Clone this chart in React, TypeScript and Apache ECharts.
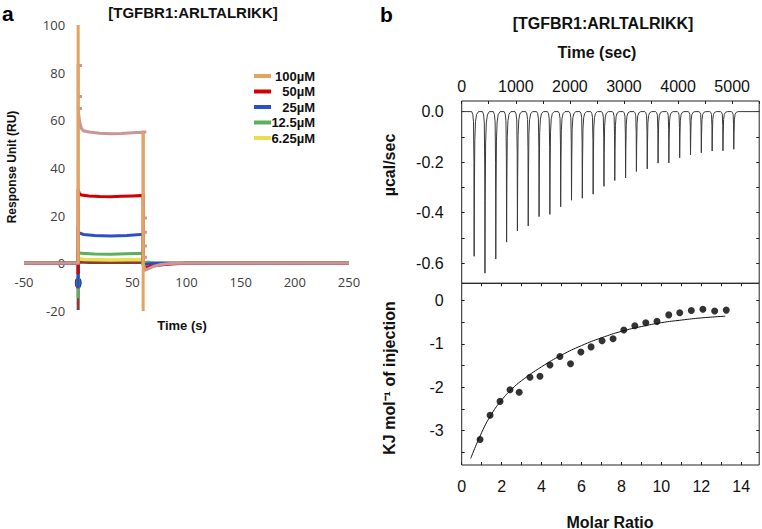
import React, { useEffect, useRef } from "react";
import * as echarts from "echarts";

// ---------- Panel a : SPR sensorgram  [time (s), response (RU)] ----------
const conc100Assoc: [number, number][] = [[0, 100], [0, 0]];
const conc100Dissoc: [number, number][] = [[60, 55.2], [60, -20]];
const conc100Trace: [number, number][] = [
  [-50, 0], [0, 0], [0, 83], [3.5, 83], [0, 83], [0, 70], [3.5, 70], [0, 70], [0, 65], [3.5, 65], [0, 65],
  [0.6, 62], [1.5, 59], [3, 56.6], [5, 55.6], [10, 55.1], [20, 54.6], [30, 54.4], [40, 54.5], [50, 54.8],
  [63, 55.1], [60, 55.1], [60, 19], [63.5, 19], [60, 19], [60, 13], [63.5, 13], [60, 13], [60, 7.3],
  [63.5, 7.3], [60, 7.3], [60, 2.6], [63.5, 2.6], [60, 2.6], [60, 0], [62, -2.8], [65, -2.2], [70, -1.2],
  [76, -0.5], [85, -0.1], [95, 0], [250, 0],
];
const conc50: [number, number][] = [
  [-50, 0], [0, 0], [0, -4.5], [0, 31], [1, 29.3], [3, 28.7], [10, 28.3], [20, 28], [30, 27.9], [40, 28.1],
  [50, 28.3], [60, 28.5], [60, 0], [61, -1.6], [65, -1.4], [70, -1], [80, -0.5], [90, -0.2], [100, 0], [250, 0],
];
const conc25: [number, number][] = [
  [-50, 0], [0, 0], [0, -10.5], [0, 13.5], [1.5, 12.6], [5, 12.1], [15, 11.7], [30, 11.5], [45, 11.7],
  [60, 12.2], [60, 0], [62, -0.4], [70, 0], [250, 0],
];
const conc25Dot: [number, number][] = [[0, -8.3]];
const conc12_5: [number, number][] = [
  [-50, 0], [0, 0], [0, -14.6], [0, 4.6], [3, 4.2], [15, 3.9], [30, 3.8], [45, 4], [60, 4.2], [60, 0],
  [64, 0.5], [70, 0], [250, 0],
];
const conc6_25: [number, number][] = [
  [-50, 0], [0, 0], [0, 2], [5, 1.6], [30, 1.4], [60, 1.6], [60, 0], [250, 0],
];
const conc3_125: [number, number][] = [
  [-50, 0], [0, 0], [0, -19.6], [0, 0.6], [10, 0.4], [40, 0.4], [60, 0.5], [60, 0], [250, 0],
];
const legendNames = ["100µM", "50µM", "25µM", "12.5µM", "6.25µM"];
const sprTimeRange = [-50, 250];
const sprResponseRange = [-20, 100];

// ---------- Panel b (top): raw ITC thermogram ----------
const injectionTimes = [
  230, 430, 630, 830, 1030, 1230, 1430, 1630, 1830, 2030, 2230, 2430, 2630,
  2830, 3030, 3230, 3430, 3630, 3830, 4030, 4230, 4430, 4630, 4830, 5030,
];
const peakDepths = [
  -0.573, -0.64, -0.584, -0.517, -0.473, -0.453, -0.416, -0.407, -0.377, -0.351, -0.343, -0.327, -0.296,
  -0.273, -0.263, -0.237, -0.227, -0.204, -0.203, -0.183, -0.171, -0.163, -0.156, -0.155, -0.149,
];
// shape of one injection peak: [seconds from injection, fraction of peak depth]
const peakProfile: [number, number][] = [
  [-45, 0], [-25, 0.02], [-12, 0.07], [-4, 0.35], [0, 1], [5, 0.55], [12, 0.2], [25, 0.07], [45, 0.02], [80, 0],
];
const timeLabels = [0, 1000, 2000, 3000, 4000, 5000];
const timeTicks = [0, 500, 1000, 1500, 2000, 2500, 3000, 3500, 4000, 4500, 5000, 5500];
const powerLabels = [0, -0.2, -0.4, -0.6];
const powerTicks = [0, -0.1, -0.2, -0.3, -0.4, -0.5, -0.6];

// ---------- Panel b (bottom): integrated heats ----------
const molarRatio = [
  0.92, 1.42, 1.92, 2.42, 2.88, 3.42, 3.92, 4.42, 4.92, 5.45, 5.97, 6.48, 7.03, 7.58, 8.12, 8.67,
  9.22, 9.78, 10.37, 10.92, 11.5, 12.08, 12.67, 13.25,
];
const heatPerInjection = [
  -3.21, -2.65, -2.33, -2.06, -2.12, -1.77, -1.75, -1.49, -1.29, -1.46, -1.19, -1.07, -0.93, -0.88,
  -0.68, -0.58, -0.51, -0.48, -0.33, -0.28, -0.23, -0.2, -0.24, -0.22,
];
const fitMolarRatio = [0.45, 1, 1.5, 2, 2.5, 3, 4, 5, 6, 7, 8, 9, 10, 11, 12, 13.2];
const fitHeat = [-3.65, -3.05, -2.62, -2.3, -2.05, -1.85, -1.53, -1.26, -1.04, -0.86, -0.71, -0.6, -0.51, -0.45, -0.4, -0.36];
const ratioLabels = [0, 2, 4, 6, 8, 10, 12, 14];
const ratioTicks = [0, 1, 2, 3, 4, 5, 6, 7, 8, 9, 10, 11, 12, 13, 14];
const heatLabels = [0, -1, -2, -3];
const heatTicks = [0, -0.5, -1, -1.5, -2, -2.5, -3, -3.5];

const COLORS = {
  c100: "#E3A55E",
  trace: "#C8969A",
  c50: "#D40000",
  c25: "#2A50C8",
  c12: "#5DAE5D",
  c6: "#E6E04A",
  c3: "#8B3A3A",
};
const legendColors = [COLORS.c100, COLORS.c50, COLORS.c25, COLORS.c12, COLORS.c6];

export default function App() {
  const ref = useRef<HTMLDivElement>(null);

  useEffect(() => {
    if (!ref.current) return;
    const chart = echarts.init(ref.current, undefined, { renderer: "svg" });

    const itcRaw: [number, number][] = [[0, 0]];
    injectionTimes.forEach((t, i) => {
      peakProfile.forEach(([dt, f]) => itcRaw.push([t + dt, peakDepths[i] * f]));
    });
    itcRaw.push([5500, 0]);

    // panel a grid geometry; axes cross at (0, 0) like the original
    const gA = { left: 24, top: 25, width: 325, height: 286 };
    const yAxisShift =
      (gA.width * (0 - sprTimeRange[0])) / (sprTimeRange[1] - sprTimeRange[0]);
    const xAxisShift =
      (gA.height * (0 - sprResponseRange[0])) / (sprResponseRange[1] - sprResponseRange[0]);

    const aFont = "'Open Sans', 'Noto Sans', sans-serif";
    const bFont = "'Liberation Sans', Arial, sans-serif";
    const lineA = (name: string, data: [number, number][], color: string, width = 3) => ({
      type: "line",
      name,
      xAxisIndex: 0,
      yAxisIndex: 0,
      data,
      symbol: "none",
      lineStyle: { color, width, cap: "butt", join: "miter" },
      itemStyle: { color },
    });

    const bAxisTick = (vals: number[]) => ({
      show: true,
      inside: true,
      length: 3,
      customValues: vals,
      lineStyle: { color: "#222", width: 1 },
    });
    const bLabel = (vals: number[], margin: number, fmt?: (v: number) => string) => ({
      show: true,
      customValues: vals,
      margin,
      fontSize: 16,
      color: "#111",
      fontFamily: bFont,
      formatter: fmt || ((v: number) => String(v)),
    });

    const legendGraphics: any[] = [];
    legendNames.forEach((n, i) => {
      const y = 76 + i * 15.5;
      legendGraphics.push({
        type: "line",
        shape: { x1: 254, y1: y, x2: 271, y2: y },
        style: { stroke: legendColors[i], lineWidth: 4 },
      });
      legendGraphics.push({
        type: "text",
        x: 315,
        y,
        style: {
          text: n,
          textAlign: "right",
          textVerticalAlign: "middle",
          font: `bold 13px ${bFont}`,
          fill: "#111",
        },
      });
    });

    const option: any = {
      animation: false,
      backgroundColor: "#ffffff",
      grid: [
        { ...gA, outerBoundsMode: "none" },
        {
          left: 461.7, top: 101, width: 297.5, height: 182.3, show: true,
          borderColor: "#222", borderWidth: 1, backgroundColor: "transparent", outerBoundsMode: "none",
        },
        {
          left: 461.7, top: 283.3, width: 297.5, height: 181.7, show: true,
          borderColor: "#222", borderWidth: 1, backgroundColor: "transparent", outerBoundsMode: "none",
        },
      ],
      xAxis: [
        {
          gridIndex: 0, type: "value", min: sprTimeRange[0], max: sprTimeRange[1], interval: 50,
          offset: -xAxisShift,
          axisLine: { show: false, onZero: false }, axisTick: { show: false }, splitLine: { show: false },
          axisLabel: { margin: 12, fontSize: 13, color: "#404040", fontFamily: aFont },
        },
        {
          gridIndex: 1, type: "value", position: "top", min: 0, max: 5500,
          axisLine: { show: false, onZero: false }, splitLine: { show: false },
          axisTick: bAxisTick(timeTicks), axisLabel: bLabel(timeLabels, 7),
        },
        {
          gridIndex: 2, type: "value", position: "bottom", min: 0, max: 14.9,
          axisLine: { show: false, onZero: false }, splitLine: { show: false },
          axisTick: bAxisTick(ratioTicks), axisLabel: bLabel(ratioLabels, 13),
        },
        {
          gridIndex: 2, type: "value", position: "top", min: 0, max: 14.9,
          axisLine: { show: false, onZero: false }, splitLine: { show: false },
          axisTick: bAxisTick(ratioTicks.slice(1)), axisLabel: { show: false },
        },
      ],
      yAxis: [
        {
          gridIndex: 0, type: "value", min: sprResponseRange[0], max: sprResponseRange[1], interval: 20,
          offset: -yAxisShift,
          axisLine: { show: false, onZero: false }, axisTick: { show: false }, splitLine: { show: false },
          axisLabel: { margin: 13, fontSize: 13, color: "#404040", fontFamily: aFont },
        },
        {
          gridIndex: 1, type: "value", position: "left", min: -0.68, max: 0.042,
          axisLine: { show: false, onZero: false }, splitLine: { show: false },
          axisTick: bAxisTick(powerTicks), axisLabel: bLabel(powerLabels, 18, (v: number) => v.toFixed(1)),
        },
        {
          gridIndex: 1, type: "value", position: "right", min: -0.68, max: 0.042,
          axisLine: { show: false, onZero: false }, splitLine: { show: false },
          axisTick: bAxisTick(powerTicks), axisLabel: { show: false },
        },
        {
          gridIndex: 2, type: "value", position: "left", min: -3.8, max: 0.4,
          axisLine: { show: false, onZero: false }, splitLine: { show: false },
          axisTick: bAxisTick(heatTicks), axisLabel: bLabel(heatLabels, 18),
        },
        {
          gridIndex: 2, type: "value", position: "right", min: -3.8, max: 0.4,
          axisLine: { show: false, onZero: false }, splitLine: { show: false },
          axisTick: bAxisTick(heatTicks), axisLabel: { show: false },
        },
      ],
      series: [
        lineA("3.125µM", conc3_125, COLORS.c3),
        lineA("6.25µM", conc6_25, COLORS.c6, 3.5),
        lineA("12.5µM", conc12_5, COLORS.c12),
        lineA("25µM", conc25, COLORS.c25),
        {
          type: "scatter", name: "25µM", xAxisIndex: 0, yAxisIndex: 0, data: conc25Dot,
          symbol: "circle", symbolSize: [6, 11],
          itemStyle: { color: COLORS.c25, borderColor: "#1A2F80", borderWidth: 1 },
        },
        lineA("50µM", conc50, COLORS.c50),
        lineA("100µM trace", conc100Trace, COLORS.trace),
        lineA("100µM", conc100Assoc, COLORS.c100),
        lineA("100µM", conc100Dissoc, COLORS.c100),
        {
          type: "line", name: "raw", xAxisIndex: 1, yAxisIndex: 1, data: itcRaw, symbol: "none",
          lineStyle: { color: "#3a3a3a", width: 1 },
        },
        {
          type: "line", name: "fit", xAxisIndex: 2, yAxisIndex: 3, smooth: true, symbol: "none",
          data: fitMolarRatio.map((x, i) => [x, fitHeat[i]]),
          lineStyle: { color: "#111", width: 1 },
        },
        {
          type: "scatter", name: "heat", xAxisIndex: 2, yAxisIndex: 3, symbol: "circle", symbolSize: 7,
          data: molarRatio.map((x, i) => [x, heatPerInjection[i]]),
          itemStyle: { color: "#000" },
        },
      ],
      graphic: [
        { type: "text", x: 2, y: 13, style: { text: "a", font: `bold 21px ${bFont}`, fill: "#000", textVerticalAlign: "middle" } },
        { type: "text", x: 380, y: 14, style: { text: "b", font: `bold 21px ${bFont}`, fill: "#000", textVerticalAlign: "middle" } },
        { type: "text", x: 193, y: 12, style: { text: "[TGFBR1:ARLTALRIKK]", font: `bold 15px ${bFont}`, fill: "#111", textAlign: "center", textVerticalAlign: "middle" } },
        { type: "text", x: 603, y: 23, style: { text: "[TGFBR1:ARLTALRIKK]", font: `bold 16px ${bFont}`, fill: "#111", textAlign: "center", textVerticalAlign: "middle" } },
        { type: "text", x: 597, y: 52, style: { text: "Time (sec)", font: `bold 16px ${bFont}`, fill: "#111", textAlign: "center", textVerticalAlign: "middle" } },
        { type: "text", x: 182, y: 325, style: { text: "Time (s)", font: `bold 13px ${bFont}`, fill: "#111", textAlign: "center", textVerticalAlign: "middle" } },
        { type: "text", x: 12, y: 167, rotation: Math.PI / 2, style: { text: "Response Unit (RU)", font: `bold 12px ${bFont}`, fill: "#111", textAlign: "center", textVerticalAlign: "middle" } },
        { type: "text", x: 389, y: 165, rotation: Math.PI / 2, style: { text: "µcal/sec", font: `bold 16px ${bFont}`, fill: "#111", textAlign: "center", textVerticalAlign: "middle" } },
        { type: "text", x: 389, y: 378, rotation: Math.PI / 2, style: { text: "KJ mol⁻¹ of injection", font: `bold 16px ${bFont}`, fill: "#111", textAlign: "center", textVerticalAlign: "middle" } },
        { type: "text", x: 610, y: 522, style: { text: "Molar Ratio", font: `bold 16px ${bFont}`, fill: "#111", textAlign: "center", textVerticalAlign: "middle" } },
        ...legendGraphics,
      ],
    };

    chart.setOption(option);
    return () => chart.dispose();
  }, []);

  return (
    <div
      ref={ref}
      style={{ position: "fixed", left: 0, top: 0, width: 762, height: 529, background: "#fff" }}
    />
  );
}
